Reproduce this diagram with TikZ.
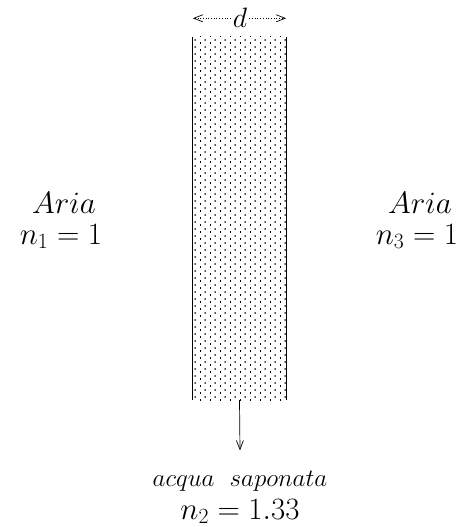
\documentclass[tikz,border=0pt]{standalone}
\usepackage{fix-cm}
\usepackage{tikz}
\usetikzlibrary{arrows.meta,positioning,patterns.meta}
\tikzdeclarepattern{name=soapdots,type=uncolored,
  bounding box={(0,0) and (10pt,7pt)},tile size={(10pt,7pt)},
  code={\fill (0,0) rectangle (1pt,2pt); \fill (5pt,3.5pt) rectangle (6pt,5.5pt);}}
\tikzset{
  wall/.style={line width=0.8pt},
  big/.style={font=\fontsize{31}{36}\selectfont,inner sep=0pt,anchor=base},
  small/.style={font=\fontsize{25}{28}\selectfont,inner sep=0pt,anchor=base},
  thin arrow/.style={line width=0.7pt,-{Straight Barb[length=9pt,width=7pt]}}
}
\begin{document}
\begin{tikzpicture}[x=1pt,y=-1pt]
  \useasboundingbox (0,0) rectangle (467,527);
  % soap film
  \node[minimum width=93pt,minimum height=363pt,inner sep=0pt,
        pattern=soapdots] (film) at (239.5,218.5) {};
  \draw[wall] (film.north west) -- (film.south west);
  \draw[wall] (film.north east) -- (film.south east);
  % thickness
  \node[big,font=\fontsize{28}{32}\selectfont] (d) at (240,28) {$d$};
  \draw[thin arrow,dotted] ([xshift=-2pt]d.west) -- (film.north west |- d.west);
  \draw[thin arrow,dotted] ([xshift=2pt]d.east) -- (film.north east |- d.east);
  % media
  \node[big] (aria1) at (64,213) {$Aria$};
  \node[big] (n1) at (61,244) {$n_1=1$};
  \node[big] (aria3) at (420,213) {$Aria$};
  \node[big] (n3) at (417,244) {$n_3=1$};
  \node[small] (acqua) at (240,486) {$acqua\ \ saponata$};
  \node[big] (n2) at (240,519) {$n_2=1.33$};
  \draw[thin arrow] (film.south) -- ([yshift=20pt]acqua.north);
\end{tikzpicture}
\end{document}
